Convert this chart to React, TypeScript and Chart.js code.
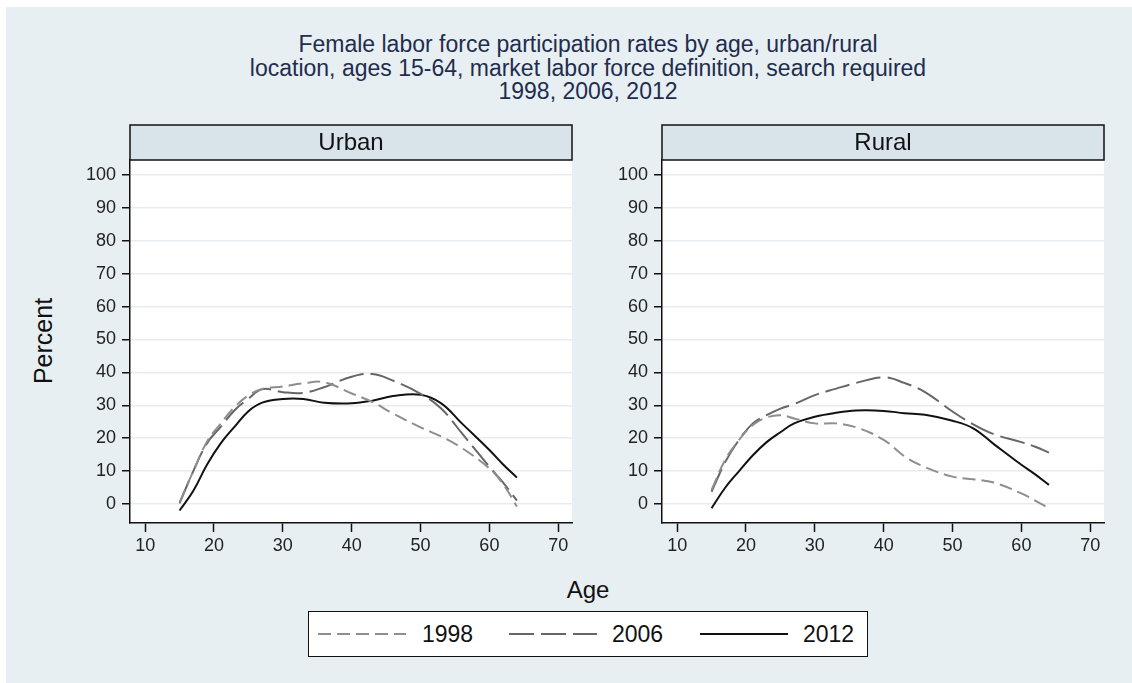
import React, { useEffect, useRef } from "react";
import { Chart, registerables } from "chart.js";

Chart.register(...registerables);

// ---------- DATA ----------
const AGES = [15, 17, 19, 21, 23, 25, 27, 30, 33, 36, 40, 43, 46, 50, 53, 56, 60, 62, 64];

const URBAN_1998 = [0.5, 10, 19, 24.5, 29.5, 33, 35, 35.7, 36.7, 37, 33.6, 31, 27.5, 23.3, 20.5, 17, 10.8, 6, -0.8];
const URBAN_2006 = [0.2, 10, 18.5, 23.5, 28.5, 32, 34.9, 34, 33.8, 35.5, 38.7, 39.5, 37.5, 33.5, 29, 21.5, 11.3, 6.5, 1];
const URBAN_2012 = [-2, 4, 12, 18.5, 23.5, 28.2, 30.8, 31.9, 31.9, 30.8, 30.6, 31.4, 32.8, 33.2, 30.6, 24.5, 16.4, 12, 8];

const RURAL_1998 = [4.3, 13.5, 19.5, 24, 26.3, 27, 26, 24.5, 24.5, 23.3, 19.5, 14.5, 11.2, 8.3, 7.5, 6.5, 3.2, 1, -1.3];
const RURAL_2006 = [3.7, 12.8, 19.5, 24.5, 27, 29, 30.4, 33.1, 35, 36.8, 38.5, 36.8, 34, 28.1, 24.2, 21.2, 18.8, 17.4, 15.6];
const RURAL_2012 = [-1.3, 5, 10, 14.8, 18.8, 21.8, 24.5, 26.5, 27.7, 28.4, 28.3, 27.6, 27.1, 25.3, 23.0, 18.2, 11.9, 9, 5.8];

const SERIES_LABELS = ["1998", "2006", "2012"];
const PANEL_TITLES = ["Urban", "Rural"];
const Y_TICKS = [0, 10, 20, 30, 40, 50, 60, 70, 80, 90, 100];
const X_TICKS = [10, 20, 30, 40, 50, 60, 70];

const TITLE_LINES = [
  "Female labor force participation rates by age, urban/rural",
  "location, ages 15-64, market labor force definition, search required",
  "1998, 2006, 2012",
];
const Y_TITLE = "Percent";
const X_TITLE = "Age";

// ---------- STYLE ----------
const FONT = '"Liberation Sans", Arial, Helvetica, sans-serif';
const SERIES_COLORS = ["#8E8E8E", "#666666", "#111111"];
const SERIES_DASH: number[][] = [[13, 6], [25, 7], []];
const BG = "#E8EFF2";

const headerPlugin = {
  id: "panelHeader",
  beforeDraw(chart: any, _args: any, opts: any) {
    const { ctx, chartArea } = chart;
    ctx.save();
    ctx.fillStyle = "#ffffff";
    ctx.fillRect(chartArea.left, chartArea.top, chartArea.right - chartArea.left, chartArea.bottom - chartArea.top);
    const h = 35;
    const top = chartArea.top - h;
    ctx.fillStyle = "#D9E4EA";
    ctx.fillRect(chartArea.left, top, chartArea.right - chartArea.left, h);
    ctx.strokeStyle = "#111";
    ctx.lineWidth = 1.5;
    ctx.strokeRect(chartArea.left, top, chartArea.right - chartArea.left, h);
    ctx.fillStyle = "#111";
    ctx.font = `24px ${FONT}`;
    ctx.textAlign = "center";
    ctx.textBaseline = "middle";
    ctx.fillText(opts.text || "", (chartArea.left + chartArea.right) / 2, top + h / 2 + 1);
    ctx.restore();
  },
};

function Panel({ title, series, left }: { title: string; series: number[][]; left: number }) {
  const ref = useRef<HTMLCanvasElement | null>(null);
  useEffect(() => {
    if (!ref.current) return;
    const datasets = series.map((vals, i) => ({
      label: SERIES_LABELS[i],
      data: AGES.map((a, j) => ({ x: a, y: vals[j] })),
      borderColor: SERIES_COLORS[i],
      borderWidth: 2,
      borderDash: SERIES_DASH[i],
      pointRadius: 0,
      tension: 0.4,
      fill: false,
    }));
    const chart = new Chart(ref.current, {
      type: "line",
      data: { datasets },
      plugins: [headerPlugin],
      options: {
        animation: false,
        responsive: false,
        maintainAspectRatio: false,
        layout: { padding: { top: 37, right: 2, left: 0, bottom: 0 } },
        plugins: {
          legend: { display: false },
          tooltip: { enabled: false },
          // @ts-ignore
          panelHeader: { text: title },
        },
        scales: {
          x: {
            type: "linear",
            min: 7.8,
            max: 72,
            afterBuildTicks: (s: any) => {
              s.ticks = X_TICKS.map((v) => ({ value: v }));
            },
            afterFit: (s: any) => {
              s.height = 42;
            },
            grid: {
              drawOnChartArea: false,
              drawTicks: true,
              tickLength: 9,
              tickColor: "#111",
              tickWidth: 1.5,
            },
            border: { color: "#111", width: 1.5 },
            ticks: { color: "#222", font: { size: 18, family: FONT }, padding: 3, maxRotation: 0 },
          },
          y: {
            type: "linear",
            min: -5.8,
            max: 104.6,
            afterBuildTicks: (s: any) => {
              s.ticks = Y_TICKS.map((v) => ({ value: v }));
            },
            afterFit: (s: any) => {
              s.width = 70;
            },
            grid: {
              color: "#E6EDF0",
              lineWidth: 1.5,
              drawTicks: true,
              tickLength: 8,
              tickColor: "#111",
              tickWidth: 1.5,
            },
            border: { color: "#111", width: 1.5 },
            ticks: { color: "#222", font: { size: 18, family: FONT }, padding: 6 },
          },
        },
      },
    });
    return () => chart.destroy();
  }, []);
  return (
    <canvas
      ref={ref}
      width={514}
      height={442}
      style={{ position: "absolute", left, top: 123, width: 514, height: 442 }}
    />
  );
}

function LegendSample({ i }: { i: number }) {
  return (
    <svg width={88} height={6} style={{ display: "block" }}>
      <line
        x1={0}
        y1={3}
        x2={88}
        y2={3}
        stroke={SERIES_COLORS[i]}
        strokeWidth={2}
        strokeDasharray={SERIES_DASH[i].length ? SERIES_DASH[i].join(" ") : undefined}
      />
    </svg>
  );
}

export default function App() {
  const legendPos = [
    { line: 9, text: 113 },
    { line: 200, text: 303 },
    { line: 391, text: 494 },
  ];
  return (
    <div style={{ position: "fixed", left: 0, top: 0, width: 1132, height: 683, background: "#fff", overflow: "hidden", fontFamily: FONT }}>
      <div style={{ position: "absolute", left: 6, top: 7, right: 0, bottom: 0, background: BG }} />
      <div
        style={{
          position: "absolute",
          left: 44,
          width: 1088,
          top: 33,
          textAlign: "center",
          color: "#1F2D4E",
          fontSize: 23,
          lineHeight: "23.5px",
          whiteSpace: "nowrap",
        }}
      >
        {TITLE_LINES.map((t) => (
          <div key={t}>{t}</div>
        ))}
      </div>
      <Panel title={PANEL_TITLES[0]} series={[URBAN_1998, URBAN_2006, URBAN_2012]} left={60} />
      <Panel title={PANEL_TITLES[1]} series={[RURAL_1998, RURAL_2006, RURAL_2012]} left={592} />
      <div
        style={{
          position: "absolute",
          left: 43,
          top: 341,
          transform: "translate(-50%, -50%) rotate(-90deg)",
          fontSize: 25,
          lineHeight: "28px",
          color: "#111",
          whiteSpace: "nowrap",
        }}
      >
        {Y_TITLE}
      </div>
      <div
        style={{
          position: "absolute",
          left: 588,
          top: 590,
          transform: "translate(-50%, -50%)",
          fontSize: 24,
          lineHeight: "28px",
          color: "#111",
        }}
      >
        {X_TITLE}
      </div>
      <div
        style={{
          position: "absolute",
          left: 308,
          top: 611,
          width: 560,
          height: 46,
          boxSizing: "border-box",
          border: "1.5px solid #111",
          background: "#fff",
        }}
      >
        {SERIES_LABELS.map((lab, i) => (
          <React.Fragment key={lab}>
            <div style={{ position: "absolute", left: legendPos[i].line, top: 18.5 }}>
              <LegendSample i={i} />
            </div>
            <div style={{ position: "absolute", left: legendPos[i].text, top: 11, fontSize: 23, color: "#111", lineHeight: "23px" }}>
              {lab}
            </div>
          </React.Fragment>
        ))}
      </div>
    </div>
  );
}
